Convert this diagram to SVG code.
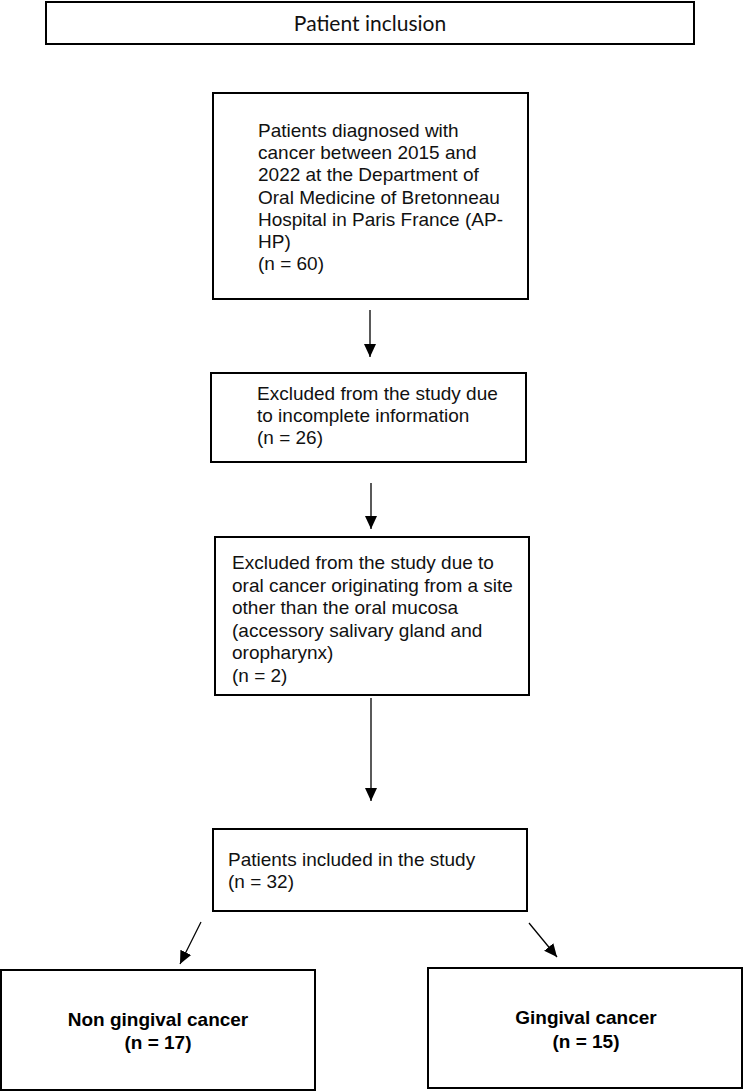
<svg xmlns="http://www.w3.org/2000/svg" width="744" height="1092" viewBox="0 0 744 1092">
<style>
.box{fill:#fff;stroke:#000;stroke-width:2}
.t{font-family:"Liberation Sans",Arial,sans-serif;font-size:19px;fill:#111}
.b{font-family:"Liberation Sans",Arial,sans-serif;font-size:19px;font-weight:bold;fill:#000;text-anchor:middle}
.title{font-family:Lato,"Open Sans",sans-serif;font-size:21px;fill:#111;text-anchor:middle}
.c{stroke:#000;stroke-width:1.3;fill:none;marker-end:url(#ah)}
</style>
<defs>
<marker id="ah" markerUnits="userSpaceOnUse" markerWidth="14" markerHeight="14" viewBox="0 0 14 14" refX="13" refY="7" orient="auto">
<path d="M0,1 L13,7 L0,13 Z" fill="#000"/>
</marker>
</defs>
<rect width="744" height="1092" fill="#fff"/>
<g id="connectors">
<line class="c" x1="370" y1="310" x2="370" y2="357"/>
<line class="c" x1="371" y1="483" x2="371" y2="529"/>
<line class="c" x1="371" y1="698" x2="371" y2="801"/>
<line class="c" x1="201" y1="922" x2="180" y2="964"/>
<line class="c" x1="529" y1="923" x2="557" y2="957"/>
</g>
<g id="node-title">
<rect class="box" x="46" y="2" width="648" height="42" stroke-width="2.5"/>
<text class="title" x="370" y="31">Patient inclusion</text>
</g>
<g id="node-diagnosed">
<rect class="box" x="213" y="93" width="315" height="206"/>
<text class="t" x="258" y="137">Patients diagnosed with</text>
<text class="t" x="258" y="159">cancer between 2015 and</text>
<text class="t" x="258" y="181">2022 at the Department of</text>
<text class="t" x="258" y="204">Oral Medicine of Bretonneau</text>
<text class="t" x="258" y="226">Hospital in Paris France (AP-</text>
<text class="t" x="258" y="248">HP)</text>
<text class="t" x="258" y="270">(n = 60)</text>
</g>
<g id="node-excluded1">
<rect class="box" x="211" y="373" width="315" height="89"/>
<text class="t" x="257" y="400">Excluded from the study due</text>
<text class="t" x="257" y="422">to incomplete information</text>
<text class="t" x="257" y="444">(n = 26)</text>
</g>
<g id="node-excluded2">
<rect class="box" x="215" y="537" width="314" height="158"/>
<text class="t" x="232" y="569">Excluded from the study due to</text>
<text class="t" x="232" y="592">oral cancer originating from a site</text>
<text class="t" x="232" y="614">other than the oral mucosa</text>
<text class="t" x="232" y="637">(accessory salivary gland and</text>
<text class="t" x="232" y="659">oropharynx)</text>
<text class="t" x="232" y="682">(n = 2)</text>
</g>
<g id="node-included">
<rect class="box" x="213" y="829" width="314" height="82"/>
<text class="t" x="228" y="866">Patients included in the study</text>
<text class="t" x="228" y="888">(n = 32)</text>
</g>
<g id="node-nongingival">
<rect class="box" x="1" y="970" width="314" height="120"/>
<text class="b" x="158" y="1026">Non gingival cancer</text>
<text class="b" x="158" y="1049">(n = 17)</text>
</g>
<g id="node-gingival">
<rect class="box" x="428" y="968" width="314" height="120"/>
<text class="b" x="586" y="1024">Gingival cancer</text>
<text class="b" x="586" y="1048">(n = 15)</text>
</g>
</svg>
